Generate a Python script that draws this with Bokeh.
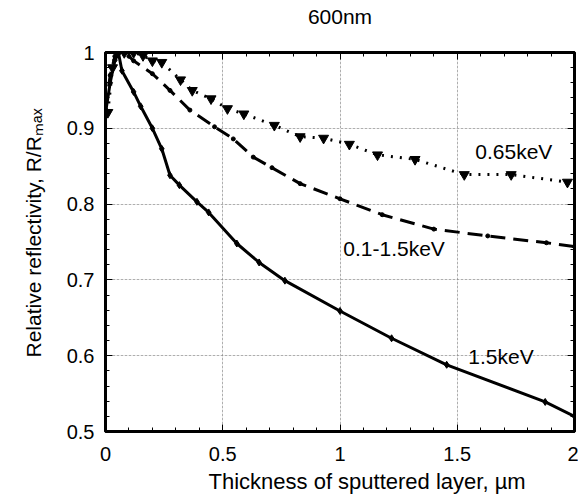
from bokeh.plotting import figure
from bokeh.models import Range1d, LinearAxis, Label, FixedTicker, Grid, Title
from bokeh.embed import file_html
from bokeh.resources import INLINE

# ---- data ----
x_15 = [0, 0.02, 0.04, 0.055, 0.07, 0.12, 0.15, 0.2, 0.24, 0.275, 0.315, 0.39, 0.44,
        0.56, 0.655, 0.765, 1.0, 1.22, 1.455, 1.875, 2.0]
y_15 = [0.92, 0.96, 0.99, 1.0, 0.976, 0.948, 0.929, 0.9, 0.873, 0.838, 0.825, 0.803, 0.789,
        0.748, 0.723, 0.699, 0.659, 0.623, 0.588, 0.539, 0.52]

x_mix = [0, 0.02, 0.04, 0.06, 0.1, 0.12, 0.2, 0.275, 0.36, 0.465, 0.545, 0.63, 0.71, 0.83,
         1.0, 1.18, 1.4, 1.63, 1.88, 2.0]
y_mix = [0.925, 0.97, 0.995, 1.0, 0.995, 0.989, 0.972, 0.95, 0.924, 0.902, 0.886, 0.862, 0.848,
         0.827, 0.807, 0.786, 0.767, 0.758, 0.749, 0.744]

x_065 = [0.01, 0.03, 0.05, 0.08, 0.12, 0.16, 0.2, 0.24, 0.32, 0.37, 0.45, 0.52, 0.59, 0.72,
         0.83, 0.93, 1.04, 1.16, 1.32, 1.53, 1.73, 1.97]
y_065 = [0.921, 0.98, 1.0, 1.0, 1.0, 0.996, 0.989, 0.987, 0.964, 0.95, 0.939, 0.926, 0.919, 0.904,
         0.889, 0.887, 0.879, 0.865, 0.859, 0.839, 0.839, 0.829]

x_ticks = [0, 0.5, 1, 1.5, 2]
y_ticks = [0.5, 0.6, 0.7, 0.8, 0.9, 1]

title_text = "600nm"
xlabel_text = "Thickness of sputtered layer, \u00b5m"
ylabel_text = "Relative reflectivity, R/R\u2098\u2090\u2093"
series_labels = ["0.65keV", "0.1-1.5keV", "1.5keV"]

FONT = "Liberation Sans"

p = figure(width=578, height=496, output_backend="svg", toolbar_location=None,
           x_range=Range1d(0, 2), y_range=Range1d(0.5, 1),
           min_border_left=105, min_border_right=4, min_border_top=52, min_border_bottom=64,
           x_axis_location=None, y_axis_location=None)
p.background_fill_color = "white"
p.border_fill_color = "white"
p.outline_line_color = "black"
p.outline_line_width = 3

def make_axis(ticks, minor, labels=True):
    ax = LinearAxis(ticker=FixedTicker(ticks=ticks, minor_ticks=minor))
    ax.axis_line_color = "black"
    ax.axis_line_width = 3
    ax.major_tick_in = 7
    ax.major_tick_out = 0
    ax.minor_tick_in = 4
    ax.minor_tick_out = 0
    ax.major_tick_line_width = 1
    ax.minor_tick_line_width = 1
    ax.major_label_text_font = FONT
    ax.major_label_text_font_size = "20px"
    ax.major_label_text_color = "black"
    if not labels:
        ax.major_label_text_font_size = "0px"
        ax.major_label_text_alpha = 0
        ax.major_label_standoff = 0
    return ax

xminor = [round(0.1 * i, 2) for i in range(21)]
yminor = [round(0.5 + 0.02 * i, 3) for i in range(26)]

xb = make_axis(x_ticks, xminor)
xb.major_label_standoff = 15
p.add_layout(xb, "below")
yl = make_axis(y_ticks, yminor)
yl.major_label_standoff = 11
p.add_layout(yl, "left")
xt = make_axis(x_ticks, xminor, labels=False)
xt.axis_label = title_text
xt.axis_label_text_font = FONT
xt.axis_label_text_font_size = "21px"
xt.axis_label_text_font_style = "normal"
xt.axis_label_text_color = "black"
xt.axis_label_standoff = 25
p.add_layout(xt, "above")
yr = make_axis(y_ticks, yminor, labels=False)
p.add_layout(yr, "right")

gx = Grid(dimension=0, ticker=FixedTicker(ticks=x_ticks), grid_line_color="#777777",
          grid_line_dash="1 3", grid_line_width=1)
gy = Grid(dimension=1, ticker=FixedTicker(ticks=y_ticks), grid_line_color="#777777",
          grid_line_dash="1 3", grid_line_width=1)
p.add_layout(gx)
p.add_layout(gy)

# curves
p.line(x_15, y_15, line_color="black", line_width=3)
p.scatter(x_15, y_15, marker="diamond", size=7, color="black")

p.line(x_mix, y_mix, line_color="black", line_width=3, line_dash="15 8")
p.scatter(x_mix, y_mix, marker="circle", size=4, color="black")

p.line(x_065, y_065, line_color="black", line_width=3, line_dash="2 7")
p.scatter(x_065, y_065, marker="inverted_triangle", size=10, color="black")

def lab(x, y, t, size="21px"):
    p.add_layout(Label(x=x, y=y, text=t, text_font=FONT, text_font_size=size,
                       text_color="black", text_align="left", text_baseline="middle"))

lab(1.577, 0.87, series_labels[0])
lab(1.014, 0.742, series_labels[1])
lab(1.547, 0.599, series_labels[2])

# axis titles
t_x = Title(text=xlabel_text, align="left", text_font=FONT, text_font_size="22px",
            text_font_style="normal", text_color="black", offset=103, standoff=6)
p.add_layout(t_x, "below")

t_y = Title(text=ylabel_text, align="left", text_font=FONT, text_font_size="21px",
            text_font_style="normal", text_color="black", offset=74, standoff=37)
p.add_layout(t_y, "left")

open("out.html", "w").write(file_html(p, INLINE))
